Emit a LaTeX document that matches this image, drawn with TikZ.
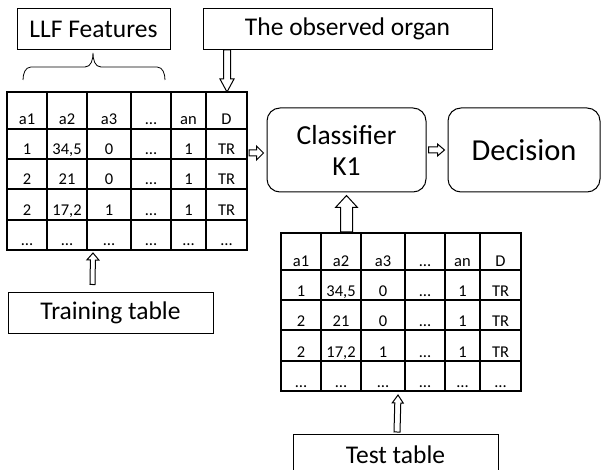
\documentclass[tikz,border=0pt]{standalone}
\usepackage{fontspec}
\setmainfont{Carlito}
\usetikzlibrary{calc}

% outlined block arrow: shaft half width, head half width, head length
\tikzset{
  hollow/.style n args={3}{line width=0.7pt, to path={
    let \p1=(\tikztostart), \p2=(\tikztotarget),
        \n1={atan2(\y2-\y1,\x2-\x1)}, \n2={veclen(\x2-\x1,\y2-\y1)} in
    {[shift={(\p1)}, rotate=\n1]
      (0pt,{-#1}) -- ({\n2*1pt-#3},{-#1}) -- ({\n2*1pt-#3},{-#2}) -- ({\n2*1pt},0pt)
      -- ({\n2*1pt-#3},{#2}) -- ({\n2*1pt-#3},{#1}) -- (0pt,{#1}) -- cycle}}}
}

\begin{document}
\begin{tikzpicture}[x=1pt, y=-1pt, line width=1pt,
  namebox/.style={draw, inner sep=0pt, minimum height=41pt,
    font=\fontsize{25.5}{30}\selectfont},
  roundbox/.style={draw, rounded corners=13pt, inner sep=0pt, minimum height=84pt},
  tablebox/.style={draw, line width=1.2pt, inner sep=0pt, outer sep=0pt,
    minimum width=240pt, minimum height=158pt},
  cell/.style={anchor=base, inner sep=0pt, font=\fontsize{16.5}{19}\selectfont}]
  \useasboundingbox (0,0) rectangle (602,470);
  \clip (0,0) rectangle (602,470);

  % training and test tables
  \foreach \tab/\px/\py in {train/7/92, test/281/233} {
    \node[tablebox, anchor=north west] (\tab) at (\px,\py) {};
    \foreach \x in {40,80,124,164,199}
      \draw[line width=1.2pt] ($(\tab.north west)+(\x,0)$) -- ($(\tab.south west)+(\x,0)$);
    \foreach \y in {37,67,97,128}
      \draw[line width=1.2pt] ($(\tab.north west)+(0,\y)$) -- ($(\tab.north east)+(0,\y)$);
    \foreach \cells [count=\r] in {{a1,a2,a3,…,an,D}, {1,{34,5},0,…,1,TR},
        {2,21,0,…,1,TR}, {2,{17,2},1,…,1,TR}, {…,…,…,…,…,…}} {
      \pgfmathsetmacro\yb{{33,63,93,124,154}[\r-1]}
      \foreach \t [count=\i] in \cells {
        \pgfmathsetmacro\xc{{20,60,102,144,181.5,219.5}[\i-1]}
        \node[cell] (\tab-\r-\i) at ($(\tab.north west)+(\xc,\yb)$) {\t};
      }
    }
  }

  % boxes
  \node[namebox, minimum width=153pt] (llf) at (93.5,29) {LLF Features};
  \node[namebox, minimum width=289pt] (organ) at (347.5,29) {The observed organ};
  \node[roundbox, minimum width=159pt, align=center,
    font=\fontsize{27.5}{31}\selectfont] (clf) at (346.5,150) {Classifier\\K1};
  \node[roundbox, minimum width=152pt,
    font=\fontsize{30.5}{34}\selectfont] (dec) at (524,150) {Decision};
  \node[namebox, minimum width=205pt] (trainlbl) at (110.5,312.5) {Training table};
  \node[namebox, minimum width=205pt] (testlbl) at (395.5,455) {Test table};

  % brace over the feature columns
  \draw[line width=0.8pt] (23,80) to[out=90,in=180] (31,67) -- (85,67)
    to[out=0,in=-90] (93,53) to[out=-90,in=180] (101,67) -- (157,67)
    to[out=0,in=90] (165,80);

  % arrows
  \coordinate (dtop) at ($(train.north east)+(-20,0)$);
  \draw (dtop |- organ.south) to[hollow={3.5pt}{7pt}{13pt}] (dtop);
  \coordinate (tin) at ($(train.east |- clf.west)+(2,3)$);
  \coordinate (cin) at ($(clf.west)+(-3,3)$);
  \draw (tin) to[hollow={3pt}{7pt}{7pt}] (cin);
  \coordinate (cout) at ($(clf.east)+(2,0)$);
  \coordinate (din) at ($(dec.west)+(-3,0)$);
  \draw (cout) to[hollow={3pt}{6pt}{7pt}] (din);
  \coordinate (tup) at ($(clf.south |- test.north)+(0,-1)$);
  \coordinate (ctip) at ($(clf.south)+(0,3)$);
  \draw (tup) to[hollow={6pt}{11pt}{12pt}] (ctip);
  \coordinate (trtail) at ($(trainlbl.north west)+(85,-7)$);
  \coordinate (trtip) at ($(train.south west)+(86,3)$);
  \draw (trtail) to[hollow={2.5pt}{6pt}{7pt}] (trtip);
  \coordinate (tetail) at ($(testlbl.north)+(1.5,-2)$);
  \coordinate (tetip) at ($(test.south)+(-3,4)$);
  \draw (tetail) to[hollow={3pt}{5.5pt}{8pt}] (tetip);
\end{tikzpicture}
\end{document}
